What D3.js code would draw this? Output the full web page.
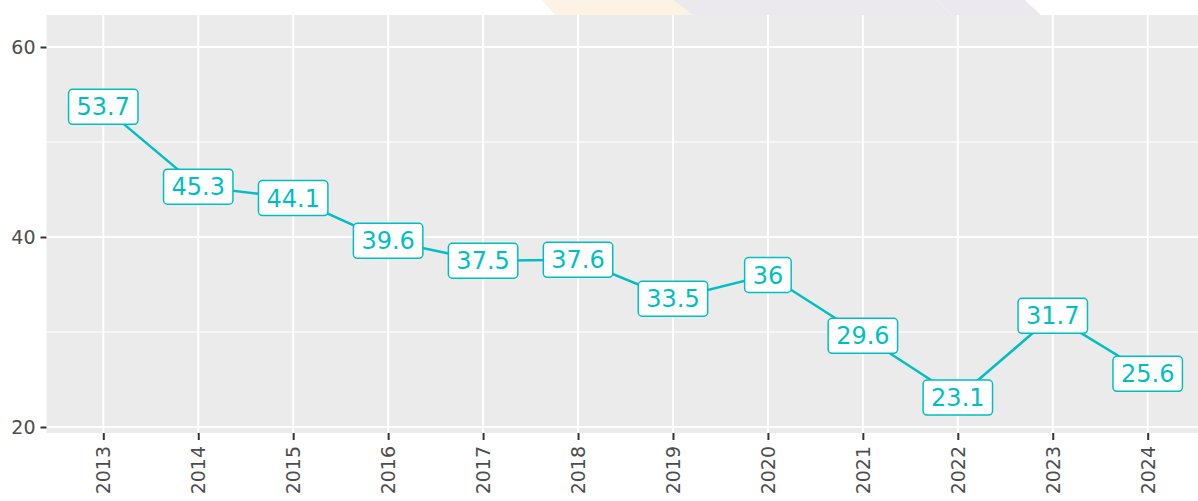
<!DOCTYPE html>
<html>
<head>
<meta charset="utf-8">
<script src="https://cdn.jsdelivr.net/npm/d3@7"></script>
<style>
  body { margin: 0; background: #fff; }
  svg { display: block; }
</style>
</head>
<body>
<svg id="chart" width="1198" height="501"></svg>
<script>
// values
const years = ['2013', '2014', '2015', '2016', '2017', '2018', '2019', '2020', '2021', '2022', '2023', '2024']
const values = [53.7, 45.3, 44.1, 39.6, 37.5, 37.6, 33.5, 36, 29.6, 23.1, 31.7, 25.6]
const yMajor = [20, 40, 60]
const yMinor = [30, 50]

const teal = '#00BFC4'
const svg = d3.select('#chart')

const panel = { left: 46.5, top: 15, right: 1198, bottom: 433 }

const x = d3.scalePoint()
  .domain(years)
  .range([103.3, 1147.7])

const y = d3.scaleLinear()
  .domain([20, 60])
  .range([427, 47])

// faded shapes above the panel (watermark remnants)
svg.append('polygon')
  .attr('points', '542,0 673,0 693,15 555,15')
  .attr('fill', '#fdf3e4')
svg.append('polygon')
  .attr('points', '673,0 937,0 952,15 693,15')
  .attr('fill', '#ebe9ee')
svg.append('polygon')
  .attr('points', '937,0 1025,0 1041,15 952,15')
  .attr('fill', '#ebe9ef')

// panel background
svg.append('rect')
  .attr('x', panel.left)
  .attr('y', panel.top)
  .attr('width', panel.right - panel.left)
  .attr('height', panel.bottom - panel.top)
  .attr('fill', '#ebebeb')

const grid = svg.append('g')

grid.selectAll('.minor')
  .data(yMinor)
  .enter()
  .append('line')
  .attr('class', 'minor')
  .attr('x1', panel.left)
  .attr('x2', panel.right)
  .attr('y1', d => y(d))
  .attr('y2', d => y(d))
  .attr('stroke', '#fff')
  .attr('stroke-width', 1)

grid.selectAll('.major-y')
  .data(yMajor)
  .enter()
  .append('line')
  .attr('class', 'major-y')
  .attr('x1', panel.left)
  .attr('x2', panel.right)
  .attr('y1', d => y(d))
  .attr('y2', d => y(d))
  .attr('stroke', '#fff')
  .attr('stroke-width', 2)

grid.selectAll('.major-x')
  .data(years)
  .enter()
  .append('line')
  .attr('class', 'major-x')
  .attr('x1', d => x(d))
  .attr('x2', d => x(d))
  .attr('y1', panel.top)
  .attr('y2', panel.bottom)
  .attr('stroke', '#fff')
  .attr('stroke-width', 2)

// axes
const yAxis = d3.axisLeft(y)
  .tickValues(yMajor)
  .tickSize(6)
  .tickPadding(5)

svg.append('g')
  .attr('transform', `translate(${panel.left},0)`)
  .call(yAxis)
  .call(g => g.select('.domain').remove())
  .call(g => g.selectAll('.tick line').attr('stroke', '#333').attr('stroke-width', 2))
  .call(g => g.selectAll('.tick text')
    .attr('fill', '#4d4d4d')
    .style('font-family', 'DejaVu Sans, sans-serif')
    .style('font-size', '19px'))

const xAxis = d3.axisBottom(x)
  .tickSize(7)
  .tickPadding(6)

svg.append('g')
  .attr('transform', `translate(0,${panel.bottom})`)
  .call(xAxis)
  .call(g => g.select('.domain').remove())
  .call(g => g.selectAll('.tick line').attr('stroke', '#333').attr('stroke-width', 2))
  .call(g => g.selectAll('.tick text')
    .attr('fill', '#4d4d4d')
    .attr('transform', 'rotate(-90)')
    .attr('x', -13)
    .attr('y', 0)
    .attr('dy', '0.35em')
    .attr('text-anchor', 'end')
    .style('font-family', 'DejaVu Sans, sans-serif')
    .style('font-size', '19px'))

// line
const pts = years.map((yr, i) => ({ year: yr, value: values[i] }))

svg.append('path')
  .datum(pts)
  .attr('fill', 'none')
  .attr('stroke', teal)
  .attr('stroke-width', 2.5)
  .attr('d', d3.line().x(d => x(d.year)).y(d => y(d.value)))

// labels
const labels = svg.selectAll('.label')
  .data(pts)
  .enter()
  .append('g')
  .attr('class', 'label')
  .attr('transform', d => `translate(${x(d.year)},${y(d.value)})`)

labels.append('rect')
  .attr('fill', '#fff')
  .attr('stroke', teal)
  .attr('stroke-width', 1.5)
  .attr('rx', 4)

labels.append('text')
  .attr('text-anchor', 'middle')
  .attr('dy', '0.36em')
  .attr('fill', teal)
  .style('font-family', 'DejaVu Sans, sans-serif')
  .style('font-size', '24px')
  .text(d => d.value)

labels.each(function () {
  const g = d3.select(this)
  const w = g.select('text').node().getComputedTextLength()
  g.select('rect')
    .attr('x', -w / 2 - 8)
    .attr('width', w + 16)
    .attr('y', -17.5)
    .attr('height', 35)
})
</script>
</body>
</html>
